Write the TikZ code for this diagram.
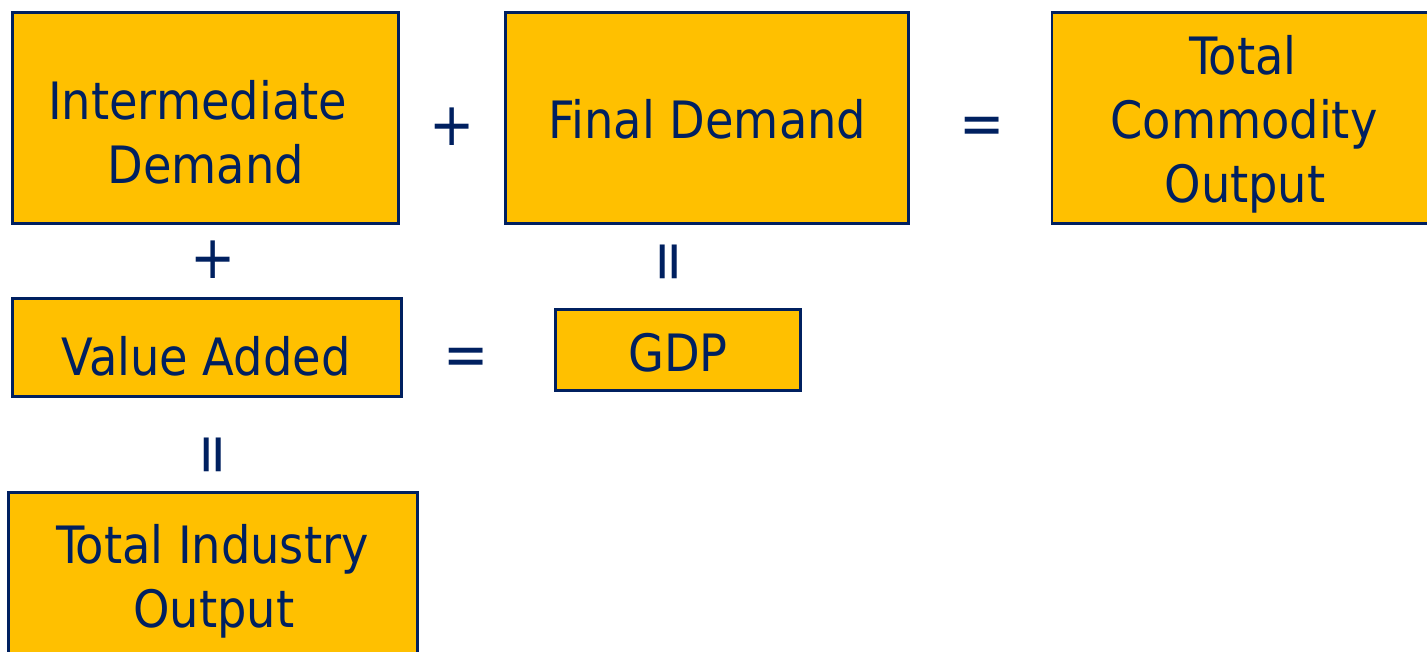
\documentclass[tikz,border=0pt]{standalone}
\usepackage{fontspec}
\setmainfont{DejaVu Sans Condensed}
\usepackage{tikz}
\definecolor{navyblue}{RGB}{0,32,96}
\definecolor{goldfill}{RGB}{255,192,0}
\tikzset{
	blk/.style={draw=navyblue,fill=goldfill,line width=2.6pt,inner sep=0pt},
	txt/.style={color=navyblue,anchor=base,inner sep=0pt,font=\fontsize{51.5}{62}\selectfont},
	op/.style={color=navyblue,inner sep=0pt,font=\fontsize{60}{70}\selectfont},
}

\begin{document}
\begin{tikzpicture}[x=1pt,y=-1pt]
		\useasboundingbox (0,0) rectangle (1427,652);
		\clip (0,0) rectangle (1427,652);
		\node[blk,minimum width=386pt,minimum height=211pt] (idm) at (205.5,118) {};
		\node[blk,minimum width=403pt,minimum height=211pt] (fdm) at (707,118) {};
		\node[blk,minimum width=386pt,minimum height=211pt] (tco) at (1245,118) {};
		\node[blk,minimum width=389pt,minimum height=98pt] (vad) at (207,347.5) {};
		\node[blk,minimum width=245pt,minimum height=81pt] (gdp) at (678,350) {};
		\node[blk,minimum width=409pt,minimum height=211pt] (tio) at (213,598) {};
		\node[txt] (idm-a) at (197.7,120) {Intermediate};
		\node[txt] (idm-b) at (205.8,184) {Demand};
		\node[txt] (fdm-a) at (707.5,139) {Final Demand};
		\node[txt] (tco-a) at (1243,75) {Total};
		\node[txt] (tco-b) at (1244,139) {Commodity};
		\node[txt] (tco-c) at (1245,203) {Output};
		\node[txt] (vad-a) at (206,375) {Value Added};
		\node[txt] (gdp-a) at (678,371) {GDP};
		\node[txt] (tio-a) at (212.5,563) {Total Industry};
		\node[txt] (tio-b) at (214,627) {Output};
		% the operators between the boxes
		\node[op] (plus1) at (452,127) {+};
		\node[op] (eq1) at (982,131) {=};
		\node[op] (plus2) at (213,260) {+};
		\node[op,rotate=90] (par1) at (674,262) {=};
		\node[op] (eq2) at (466,362) {=};
		\node[op,rotate=90] (par2) at (218,455) {=};
\end{tikzpicture}
\end{document}
